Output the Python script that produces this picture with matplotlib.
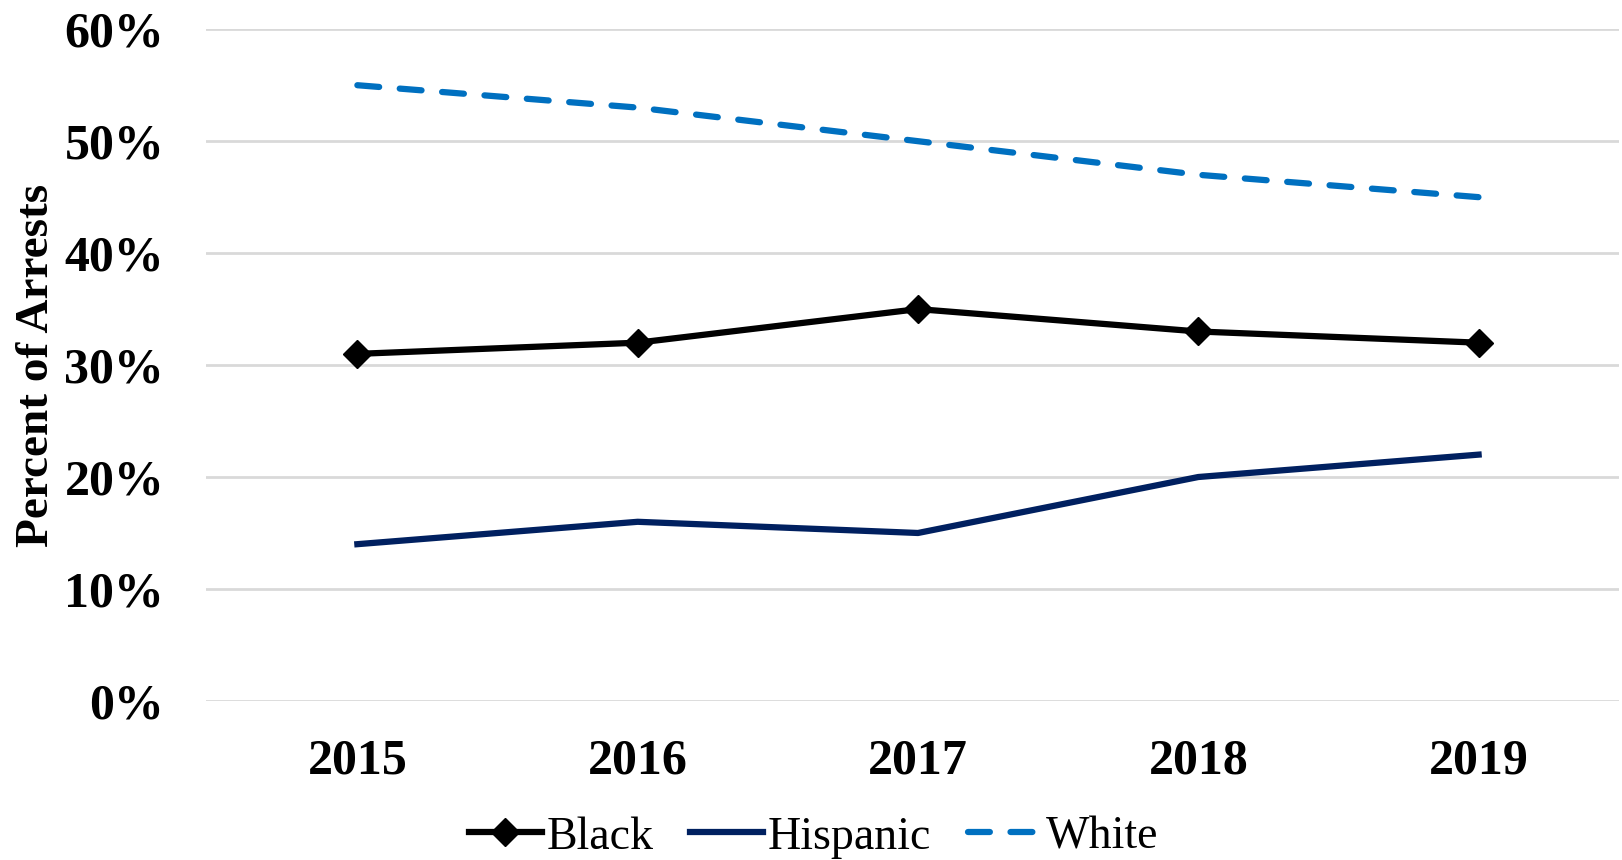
import numpy as np
import matplotlib
matplotlib.use('Agg')
import matplotlib.pyplot as plt
from matplotlib.ticker import PercentFormatter

# data
years = ['2015', '2016', '2017', '2018', '2019']
black = [31, 32, 35, 33, 32]
hispanic = [14, 16, 15, 20, 22]
white = [55, 53, 50, 47, 45]

plt.rcParams['font.family'] = ['Liberation Serif', 'DejaVu Serif']

fig = plt.figure(figsize=(16.22, 8.6), dpi=100)
ax = fig.add_axes([0.127, 0.185, 0.871, 0.781])

x = np.arange(len(years))
ax.plot(x, black, color='black', lw=4.5, marker='D', ms=14, label='Black')
ax.plot(x, hispanic, color='#002060', lw=4.5, label='Hispanic')
ax.plot(x, white, color='#0070C0', lw=4.5, ls=(0, (3.5, 3.3)), dash_capstyle='round', label='White')

ax.set_xlim(-0.54, 4.5)
ax.set_ylim(0, 60)
ax.set_yticks(range(0, 61, 10))
ax.yaxis.set_major_formatter(PercentFormatter(decimals=0))
ax.set_xticks(x)
ax.set_xticklabels(years)
ax.grid(axis='y', color='#d9d9d9', lw=2)
ax.set_axisbelow(True)
for s in ax.spines.values():
    s.set_visible(False)
ax.tick_params(length=0, labelsize=36)
ax.tick_params(axis='x', pad=27)
ax.tick_params(axis='y', pad=30)
for lab in ax.get_xticklabels() + ax.get_yticklabels():
    lab.set_fontweight('bold')
ax.set_ylabel('Percent of Arrests', fontsize=34, fontweight='bold', labelpad=5)

ax.legend(loc='upper center', bbox_to_anchor=(0.43, -0.11), ncol=3, frameon=False,
          fontsize=33, handlelength=1.6, handletextpad=0.1, columnspacing=0.8)

fig.savefig('out.png', dpi=100)
